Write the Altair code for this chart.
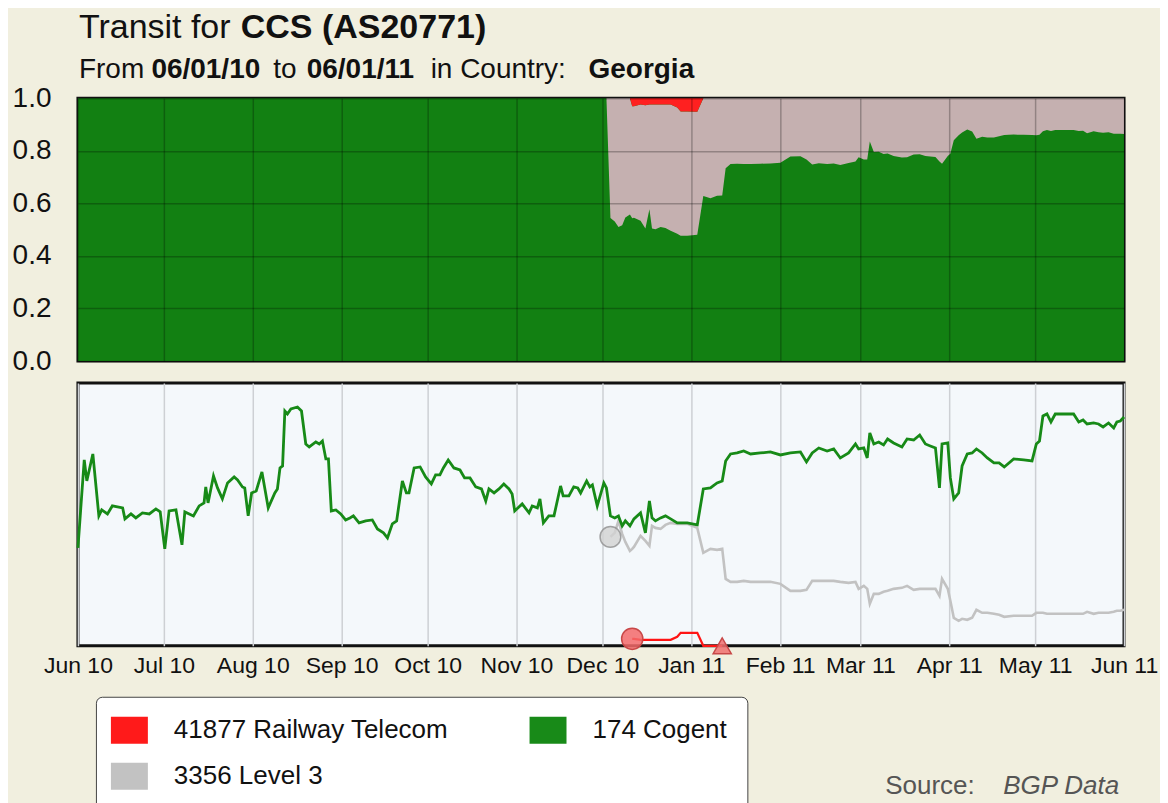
import altair as alt
import pandas as pd

FONT = "Liberation Sans"

# ---- data (days since 2010-06-01; values in relative units) ----
days = [0, 2.2, 3.1, 5.2, 7.3, 8.3, 10.3, 12, 15.6, 16.4, 18.5, 20.2, 22.5, 24.9, 27.2, 28.7, 30.3, 31.8,
        34.2, 36.3, 37.3, 40.3, 42.3, 44, 44.6, 45.4, 47.3, 48.7, 50.4, 52.2, 54.5, 55.7, 57.4, 58.2, 59.4,
        60.6, 62.2, 64.2, 66.4, 68.7, 69.6, 70.5, 71.4, 72.2, 73.1, 74.3, 76.6, 78, 79.5, 80.7, 83, 84.2,
        85.3, 86.5, 87.4, 88.4, 90, 91.7, 93.4, 94.9, 96.1, 98.1, 100.4, 102.7, 104.5, 106.6, 108, 109.7,
        111.2, 113.2, 114.6, 115.5, 117.3, 119.4, 121.3, 123.3, 124.8, 126.3, 127.5, 129.2, 131.2, 133.3,
        134.9, 136.8, 138.8, 140.8, 142.3, 143.4, 145.2, 146.9, 148.6, 150.4, 151.5, 152.4, 155, 157.4,
        158.5, 160.3, 161.2, 162.4, 164.3, 166.1, 168.4, 169.3, 171.3, 173, 174.4, 175.4, 177.5, 178.6,
        179.5, 181.2, 183.5, 184.4, 185.8, 187.3, 188.6, 189.9, 191, 192.6, 193.4, 194, 196.3, 198, 199.4,
        200.3, 201.5, 203.3, 205, 206.8, 209.1, 210.3, 212.6, 216.1, 218.2, 220.7, 223, 224.8, 226, 227.7,
        230, 232.3, 234.7, 238.1, 241.6, 245.1, 248.6, 252.1, 254.2, 256.2, 258.5, 261.4, 263.7, 266,
        268.9, 271.3, 272.4, 274.2, 275.4, 276.3, 277.7, 279.4, 281.1, 282.5, 284.6, 287.5, 289.3, 291.6,
        293.7, 295.7, 297.4, 299.2, 300.6, 301.5, 303.5, 304.4, 305.6, 307.3, 308.5, 310.3, 312, 313.5,
        315.5, 317.3, 319.6, 321.4, 323.2, 326.5, 330, 332.9, 334.4, 335.5, 336.7, 338.1, 339.5, 341,
        343.9, 347.4, 349.2, 350.7, 352.1, 354.4, 356.1, 357.7, 359.6, 361.4, 362.5, 363.7, 365]

cogent = [98, 186, 165, 192, 130, 136, 132, 140, 138, 127, 132, 128, 133, 132, 137, 134, 97, 135,
          136, 101, 134, 130, 140, 143, 159, 143, 170, 158, 147, 163, 169, 166, 159, 158, 130,
          153, 155, 174, 138, 153, 157, 178, 180, 235, 232, 237, 239, 235, 202, 199, 204, 202,
          205, 187, 187, 135, 136, 132, 126, 128, 130, 123, 125, 126, 117, 113, 108, 122,
          125, 165, 153, 153, 178, 179, 169, 162, 171, 171, 178, 186, 178, 176,
          168, 168, 159, 157, 145, 157, 153, 157, 162, 157, 152, 135, 142, 133,
          140, 138, 147, 123, 130, 130, 160, 150, 150, 159, 158, 153, 165, 159,
          161, 140, 163, 158, 130, 128, 130, 120, 125, 120, 124, 127, 133, 113, 145,
          128, 125, 128, 130, 127, 123, 123, 123, 121, 157, 158, 163, 165, 185, 192,
          193, 195, 192, 193, 194, 191, 193, 194, 184, 193, 198, 195, 197, 188,
          193, 202, 197, 198, 188, 213, 202, 204, 201, 207, 203, 199, 207, 206,
          211, 202, 200, 198, 158, 202, 203, 168, 147, 153, 180, 192, 193, 197,
          193, 188, 183, 183, 179, 187, 186, 185, 202, 205, 230, 232, 224, 232,
          232, 232, 224, 226, 222, 223, 222, 219, 223, 218, 224, 225, 229]

level3_days = [185.8, 187.3, 188.6, 189.9, 191, 192.6, 193.4, 194, 196.3, 198, 199.4, 200.3, 201.5,
               203.3, 205, 206.8, 209.1, 210.3, 212.6, 216.1, 218.2, 220.7, 223, 224.8, 226, 227.7,
               230, 232.3, 234.7, 238.1, 241.6, 245.1, 248.6, 252.1, 254.2, 256.2, 258.5, 261.4,
               263.7, 266, 268.9, 271.3, 272.4, 274.2, 275.4, 276.3, 277.7, 279.4, 281.1, 282.5,
               284.6, 287.5, 289.3, 291.6, 293.7, 295.7, 297.4, 299.2, 300.6, 301.5, 303.5, 304.4,
               305.6, 307.3, 308.5, 310.3, 312, 313.5, 315.5, 317.3, 319.6, 321.4, 323.2, 326.5,
               330, 332.9, 334.4, 335.5, 336.7, 338.1, 339.5, 341, 343.9, 347.4, 349.2, 350.7,
               352.1, 354.4, 356.1, 357.7, 359.6, 361.4, 362.5, 363.7, 365]
level3 = [109, 113, 125, 112, 104, 95, 97, 99, 110, 105, 100, 120, 118,
          117, 121, 123, 122, 122, 122, 118, 93, 97, 96, 97, 67, 64,
          64, 65, 64, 64, 64, 62, 55, 55, 56, 65, 65, 65,
          65, 64, 63, 64, 57, 60, 57, 42, 52, 52, 54, 55,
          57, 58, 60, 56, 57, 57, 57, 57, 50, 67, 57, 45,
          28, 25, 27, 26, 28, 36, 33, 33, 32, 31, 29, 30,
          30, 30, 33, 33, 33, 32, 32, 32, 32, 32, 32, 32,
          34, 32, 33, 33, 33, 34, 35, 35, 36]

railway_days = [193.4, 194, 196.3, 198, 199.4, 200.3, 201.5, 203.3, 205, 206.8, 209.1, 210.3,
                212.6, 216.1, 218.2, 220.7, 223, 224.8]
railway = [7, 7, 6, 6, 6, 6, 6, 6, 6, 6, 9, 13, 13, 13, 0, 0, 0, 0]

series_names = ["174 Cogent", "3356 Level 3", "41877 Railway Telecom"]
# legend fills column by column: column 1 = Railway, Level 3; column 2 = Cogent
legend_order = ["41877 Railway Telecom", "3356 Level 3", "174 Cogent"]
month_ticks = [(2010, 6), (2010, 7), (2010, 8), (2010, 9), (2010, 10), (2010, 11), (2010, 12),
               (2011, 1), (2011, 2), (2011, 3), (2011, 4), (2011, 5), (2011, 6)]
y_ticks = [0.0, 0.2, 0.4, 0.6, 0.8, 1.0]

# ---- tables ----
base = pd.Timestamp("2010-06-01")
wide = pd.DataFrame({"day": days, "174 Cogent": cogent})
wide["3356 Level 3"] = wide["day"].map(dict(zip(level3_days, level3)))
wide["41877 Railway Telecom"] = wide["day"].map(dict(zip(railway_days, railway)))
wide["date"] = wide["day"].map(lambda d: (base + pd.to_timedelta(d, unit="D")).strftime("%Y-%m-%dT%H:%M:%S"))
long = wide.melt(id_vars=["day", "date"], value_vars=series_names, var_name="series", value_name="value")
area_df = long.fillna({"value": 0})
line_df = long.dropna(subset=["value"]).reset_index(drop=True)

W, H = 1047, 263
tick_vals = [alt.DateTime(year=y, month=m, date=1) for (y, m) in month_ticks]
x_scale = alt.Scale(domain=[alt.DateTime(year=2010, month=6, date=1),
                            alt.DateTime(year=2011, month=6, date=1)], nice=False)

# ---- top panel: shares ----
area = alt.Chart(area_df).transform_calculate(
    ord="indexof(['174 Cogent','3356 Level 3','41877 Railway Telecom'], datum.series)"
).mark_area(interpolate="linear").encode(
    x=alt.X("date:T", scale=x_scale, title=None,
            axis=alt.Axis(values=tick_vals, labels=False, ticks=False, domain=False, grid=True,
                          gridColor="#000000", gridOpacity=0.26, gridWidth=1.5, zindex=1)),
    y=alt.Y("value:Q", stack="normalize", title=None,
            scale=alt.Scale(domain=[0, 1], nice=False),
            axis=alt.Axis(values=y_ticks, labelExpr="format(datum.value, '.1f')",
                          labelFontSize=28, labelPadding=27,
                          labelColor="#111111", labelFont=FONT, labelFlush=False,
                          ticks=False, domain=False, grid=True, gridColor="#000000",
                          gridOpacity=0.26, gridWidth=1.5, zindex=1)),
    fill=alt.Fill("series:N", scale=alt.Scale(domain=series_names,
                                              range=["#128012", "#C5B0B0", "#FF2020"]), legend=None),
    order=alt.Order("ord:Q"),
)


def label(txt, x, y, size, bold=False, italic=False, color="#111111"):
    return alt.Chart(alt.Data(values=[{}])).mark_text(
        text=txt, align="left", baseline="alphabetic", font=FONT, fontSize=size,
        fontWeight="bold" if bold else "normal", fontStyle="italic" if italic else "normal",
        color=color,
    ).encode(x=alt.value(x), y=alt.value(y))


titles = [
    label("Transit for", 1, -60, 34),
    label("CCS (AS20771)", 163, -60, 34, bold=True),
    label("From", 1, -20, 28),
    label("06/01/10", 73.5, -20, 28, bold=True),
    label("to", 195.5, -20, 28),
    label("06/01/11", 229, -20, 28, bold=True),
    label("in Country:", 353, -20, 28),
    label("Georgia", 511, -20, 28, bold=True),
]

top = alt.layer(area, *titles).properties(
    width=W, height=H,
    view=alt.ViewBackground(fill="#128012", stroke="#111111", strokeWidth=3),
)

# ---- bottom panel: counts ----
x_bottom = alt.X("date:T", scale=x_scale, title=None,
                 axis=alt.Axis(values=tick_vals, format="%b %y", labelFontSize=23, labelPadding=9,
                               labelColor="#111111", labelFont=FONT, labelFlush=False,
                               labelOverlap=False, ticks=False, domain=False, grid=True,
                               gridColor="#cdd0d4", gridWidth=1.5))
y_bottom = alt.Y("value:Q", scale=alt.Scale(domain=[0, 263], nice=False, zero=True), axis=None)

lines_base = alt.Chart(line_df)


def line_for(name, color, width):
    return lines_base.transform_filter(alt.datum.series == name).mark_line(
        color=color, strokeWidth=width, interpolate="linear"
    ).encode(x=x_bottom, y=y_bottom)


grey_line = line_for("3356 Level 3", "#c2c2c2", 2.6)
red_line = line_for("41877 Railway Telecom", "#ff1414", 2.2)
green_line = line_for("174 Cogent", "#178a17", 2.8)

ends = lines_base.transform_joinaggregate(dmin="min(day)", dmax="max(day)", groupby=["series"])
grey_start = ends.transform_filter(
    "datum.series == '3356 Level 3' && datum.day == datum.dmin"
).mark_point(shape="circle", filled=True, size=430, fill="#d2d2d2", fillOpacity=0.8,
             stroke="#8e8e8e", strokeWidth=1.5, strokeOpacity=0.8).encode(x="date:T", y="value:Q")
red_start = ends.transform_filter(
    "datum.series == '41877 Railway Telecom' && datum.day == datum.dmin"
).mark_point(shape="circle", filled=True, size=450, fill="#f36a6a", fillOpacity=0.85,
             stroke="#c84848", strokeWidth=1.5).encode(x="date:T", y="value:Q")
red_end = ends.transform_filter(
    "datum.series == '41877 Railway Telecom' && datum.day == datum.dmax"
).mark_point(shape="triangle-up", filled=True, size=330, fill="#f07070", fillOpacity=0.85,
             stroke="#c84848", strokeWidth=1.5).encode(x="date:T", y="value:Q")

legend_carrier = lines_base.mark_square(size=0, opacity=0).encode(
    x="date:T", y="value:Q",
    color=alt.Color("series:N",
                    scale=alt.Scale(domain=legend_order, range=["#ff1a1a", "#c2c2c2", "#188a18"]),
                    legend=alt.Legend(
                        title=None, orient="none", legendX=18, legendY=314, columns=2,
                        symbolType="M-1.37,-1H1.37V1H-1.37Z", symbolSize=729,
                        symbolOpacity=1, symbolStrokeWidth=0,
                        labelFont=FONT, labelFontSize=26, labelColor="#111111", labelOffset=31,
                        labelLimit=500, columnPadding=81, rowPadding=19, padding=20,
                        fillColor="#ffffff", strokeColor="#444444", cornerRadius=6,
                    )),
)

source = [
    label("Source:", 808, 411, 26, color="#555555"),
    label("BGP Data", 926, 411, 26, italic=True, color="#555555"),
]

bottom = alt.layer(grey_line, red_line, green_line, grey_start, red_start, red_end,
                   legend_carrier, *source).properties(
    width=W, height=H,
    view=alt.ViewBackground(fill="#F4F8FB", stroke="#111111", strokeWidth=3),
)

chart = alt.vconcat(top, bottom, spacing=4).resolve_scale(
    color="independent", fill="independent"
).resolve_legend(color="independent").properties(
    padding={"left": 2, "top": 1, "right": 0, "bottom": 0},
    background="#F1EFDF",
).configure(font=FONT)

chart.save("out.html", embed_options={"renderer": "svg", "actions": False})
